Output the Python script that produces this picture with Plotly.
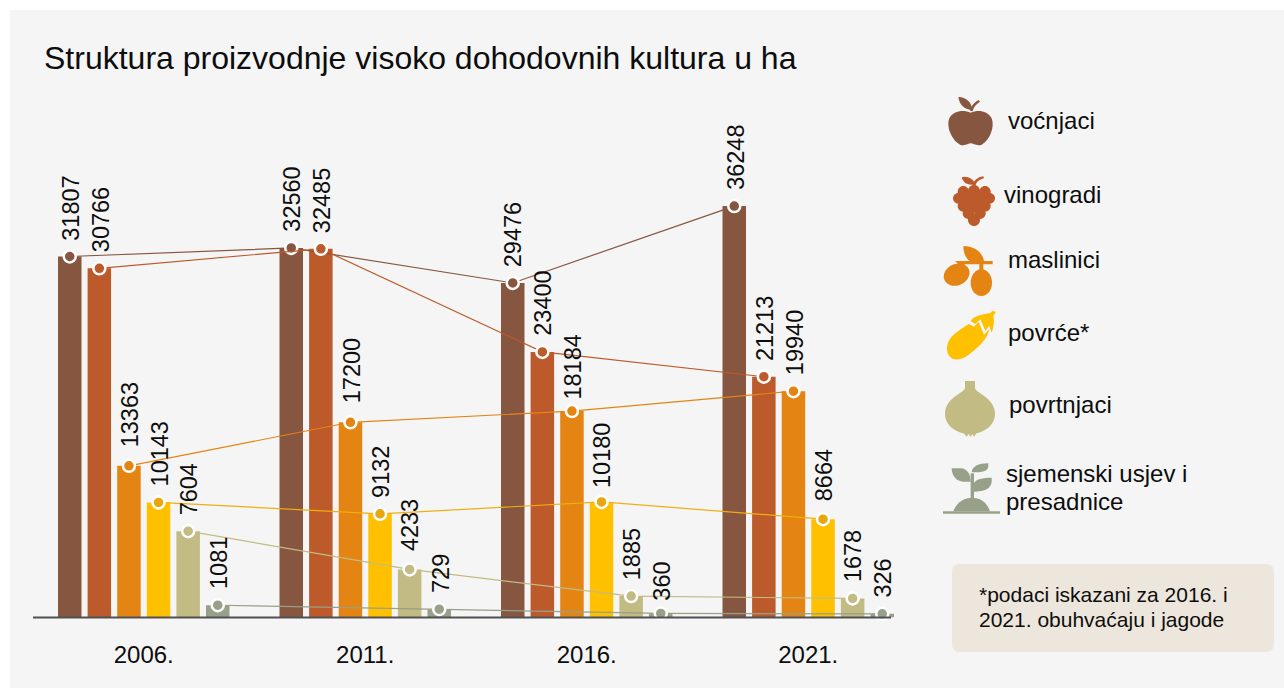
import re, math
import plotly.graph_objects as go

W, H = 1284, 688

years = ["2006.", "2011.", "2016.", "2021."]
names = ["voćnjaci", "vinogradi", "maslinici", "povrće*", "povrtnjaci", "sjemenski usjev i presadnice"]
vocnjaci = [31807, 32560, 29476, 36248]
vinogradi = [30766, 32485, 23400, 21213]
maslinici = [13363, 17200, 18184, 19940]
povrce = [10143, 9132, 10180, 8664]
povrtnjaci = [7604, 4233, 1885, 1678]
sjemenski = [1081, 729, 360, 326]
series = [vocnjaci, vinogradi, maslinici, povrce, povrtnjaci, sjemenski]
colors = ["#875640", "#BD5A2B", "#E48412", "#FFC000", "#C2BB83", "#97A088"]
dot_colors = ["#875640", "#BD5A2B", "#E48412", "#E8A60F", "#C2BB83", "#97A088"]
line_colors = ["#875640", "#BD5A2B", "#E48412", "#F0AE10", "#C2BB83", "#97A088"]
label_nudge = {13363: 3, 17200: 3, 8664: 2, 4233: 2, 18184: -4, 10180: -2, 360: -3}

PLOT_L, PLOT_R, BASE_Y = 33, 896, 617.5
GROUP = 221.5
PITCH = 29.6
BAR = 23.5
PX_PER_UNIT = 0.01135

def px(x):
    return x / W
def py(y):
    return 1 - y / H

def tr(path, ox, oy, s=1/3):
    nums = iter(range(100000))
    def rep(m):
        i = next(nums)
        v = float(m.group(0))
        return f"{px(ox + v * s):.5f}" if i % 2 == 0 else f"{py(oy + v * s):.5f}"
    return re.sub(r"-?\d+(?:\.\d+)?", rep, path)

def ellipse(cx, cy, rx, ry, rot=0):
    k = 0.5523
    pts = [(rx, 0), (rx, k*ry), (k*rx, ry), (0, ry), (-k*rx, ry), (-rx, k*ry), (-rx, 0),
           (-rx, -k*ry), (-k*rx, -ry), (0, -ry), (k*rx, -ry), (rx, -k*ry), (rx, 0)]
    c, s = math.cos(math.radians(rot)), math.sin(math.radians(rot))
    P = [(cx + x*c - y*s, cy + x*s + y*c) for x, y in pts]
    d = f"M{P[0][0]:.2f},{P[0][1]:.2f}"
    for i in range(1, 13, 3):
        d += " C" + " ".join(f"{P[j][0]:.2f},{P[j][1]:.2f}" for j in (i, i+1, i+2))
    return d + " Z"

O1 = (930, 80)
O2 = (930, 310)
icons = [
    # apple
    (colors[0], O1, "M122,98 C100,88 70,92 58,115 C48,140 65,180 90,194 C105,199 115,190 122,190 C130,190 140,199 155,194 C180,180 195,140 185,115 C172,92 145,88 122,98 Z"),
    (colors[0], O1, "M85,51 C105,50 125,65 127,90 C105,90 88,75 85,51 Z"),
    (colors[0], O1, "M120,92 C122,78 135,65 146,60 L150,65 C138,72 130,82 128,94 Z"),
    # grapes
    (colors[1], O1, "M95,292 C110,286 130,296 136,312 C115,318 100,310 95,292 Z"),
    (colors[1], O1, "M126,322 C128,305 140,292 160,289 L162,295 C148,298 136,308 136,322 Z"),
    # olives
    (colors[2], O1, "M100,498 C135,498 160,520 162,545 L122,545 C105,535 100,515 100,498 Z"),
    (colors[2], O1, "M75,543 L188,543 L188,553 L160,553 L160,570 L148,570 L148,553 L105,553 L95,560 Z"),
    (colors[2], O1, ellipse(80, 584, 40, 32, -25)),
    (colors[2], O1, ellipse(154, 608, 32, 40, 0)),
    # eggplant
    (colors[3], O2, "M51,110 C55,80 85,62 116,42 L132,50 L146,36 L162,74 L178,58 C172,92 135,120 115,135 C95,150 70,155 58,138 C52,130 50,120 51,110 Z"),
    (colors[3], O2, "M122,33 C130,18 160,12 180,10 L187,3 L198,5 L190,18 C194,35 190,55 185,68 L178,48 L166,62 L151,28 L136,42 Z"),
    # onion
    (colors[4], O2, "M105,213 L135,213 L135,235 C140,250 195,265 195,312 C195,350 155,372 120,372 C85,372 45,350 45,312 C45,265 100,250 105,235 Z"),
    (colors[4], O2, "M100,368 L140,368 L132,380 L127,372 L122,381 L116,372 L110,380 Z"),
    # seedling
    (colors[5], O2, "M39,604 L210,604 L210,611 L39,611 Z"),
    (colors[5], O2, "M70,604 C80,575 105,563 125,563 C150,563 170,575 180,604 Z"),
    (colors[5], O2, "M122,490 L132,490 L132,570 L122,570 Z"),
    (colors[5], O2, "M65,475 L95,475 C112,478 122,492 122,515 L100,515 C80,515 65,498 65,475 Z"),
    (colors[5], O2, "M125,487 C126,470 145,460 175,460 L175,470 C172,483 160,487 125,487 Z"),
    (colors[5], O2, "M132,545 L132,520 C135,508 160,503 185,503 L185,515 C183,535 165,545 132,545 Z"),
]
for x, y, r in [(100,335,17),(132,333,18),(165,335,17),(85,355,16),(115,355,20),(150,355,20),(179,355,16),
                (100,378,17),(132,378,20),(165,378,17),(115,400,17),(150,400,17),(132,420,18)]:
    icons.append((colors[1], O1, ellipse(x, y, r, r)))

fig = go.Figure()
xrange = [(PLOT_L - 143.75) / GROUP, (PLOT_R - 143.75) / GROUP]
n = len(series)

for name, vals, col in zip(names, series, colors):
    fig.add_bar(x=list(range(4)), y=vals, name=name, marker=dict(color=col, line=dict(width=0)))

offs = [(i - (n - 1) / 2) * PITCH / GROUP for i in range(n)]
for name, vals, col, dot, off in zip(names, series, line_colors, dot_colors, offs):
    fig.add_scatter(x=[k + off for k in range(4)], y=vals, mode="lines+markers", name=name,
                    line=dict(color=col, width=1.2),
                    marker=dict(size=12, color=dot, line=dict(color="white", width=2.5)),
                    showlegend=False, cliponaxis=False)

annotations = []
FONT = "Liberation Sans, Arial, sans-serif"
TXT = "#0d0d0d"
for vals, off in zip(series, offs):
    for k, v in enumerate(vals):
        annotations.append(dict(x=k + off, y=v, xref="x", yref="y", text=str(v), textangle=-90,
                                showarrow=False, xanchor="center", yanchor="bottom",
                                yshift=14 + label_nudge.get(v, 0), xshift=1,
                                font=dict(family=FONT, size=23.5, color=TXT)))

def label(x, y, text, size=24, anchor="left"):
    annotations.append(dict(x=px(x), y=py(y), xref="paper", yref="paper", text=text, showarrow=False,
                            xanchor=anchor, yanchor="middle", align="left",
                            font=dict(family=FONT, size=size, color=TXT)))

label(42, 58, "Struktura proizvodnje visoko dohodovnih kultura u ha", 32)
label(1006, 121, names[0])
label(1002, 194, names[1])
label(1006, 259, names[2])
label(1006, 332, names[3])
label(1007, 404, names[4])
label(1004, 473, "sjemenski usjev i")
label(1004, 501, "presadnice")
label(977, 594, "*podaci iskazani za 2016. i", 21)
label(977, 619, "2021. obuhvaćaju i jagode", 21)

shapes = [
    dict(type="rect", xref="paper", yref="paper", x0=px(10), x1=px(W), y0=py(10), y1=py(H),
         fillcolor="#F5F5F5", line=dict(width=0), layer="below"),
    dict(type="path", xref="paper", yref="paper", layer="below", fillcolor="#EDE6DC", line=dict(width=0),
         path=tr("M960,564 L1266,564 C1271,564 1274,567 1274,572 L1274,644 C1274,649 1271,652 1266,652 L960,652 C955,652 952,649 952,644 L952,572 C952,567 955,564 960,564 Z", 0, 0, 1)),
    dict(type="line", xref="paper", yref="paper", x0=px(33), x1=px(891), y0=py(BASE_Y), y1=py(BASE_Y),
         line=dict(color="#505050", width=2), layer="above"),
]
for col, (ox, oy), d in icons:
    shapes.append(dict(type="path", xref="paper", yref="paper", path=tr(d, ox, oy), fillcolor=col,
                       line=dict(width=0), layer="above"))

fig.update_layout(
    width=W, height=H, margin=dict(l=0, r=0, t=0, b=0), paper_bgcolor="white", plot_bgcolor="rgba(0,0,0,0)",
    barmode="group", bargap=1 - n * PITCH / GROUP, bargroupgap=1 - BAR / PITCH,
    showlegend=False, annotations=annotations, shapes=shapes,
    font=dict(family=FONT, color=TXT),
    xaxis=dict(domain=[px(PLOT_L), px(PLOT_R)], range=xrange, tickmode="array", tickvals=list(range(4)),
               ticktext=years, showgrid=False, zeroline=False, showline=False, ticks="outside", ticklen=16,
               tickcolor="rgba(0,0,0,0)", tickfont=dict(family=FONT, size=24, color=TXT)),
    yaxis=dict(domain=[py(BASE_Y), 1], range=[0, BASE_Y / PX_PER_UNIT], visible=False),
)
fig.write_html("out.html", post_script="document.body.style.margin='0';document.documentElement.style.overflow='hidden';", config={"displayModeBar": False})
